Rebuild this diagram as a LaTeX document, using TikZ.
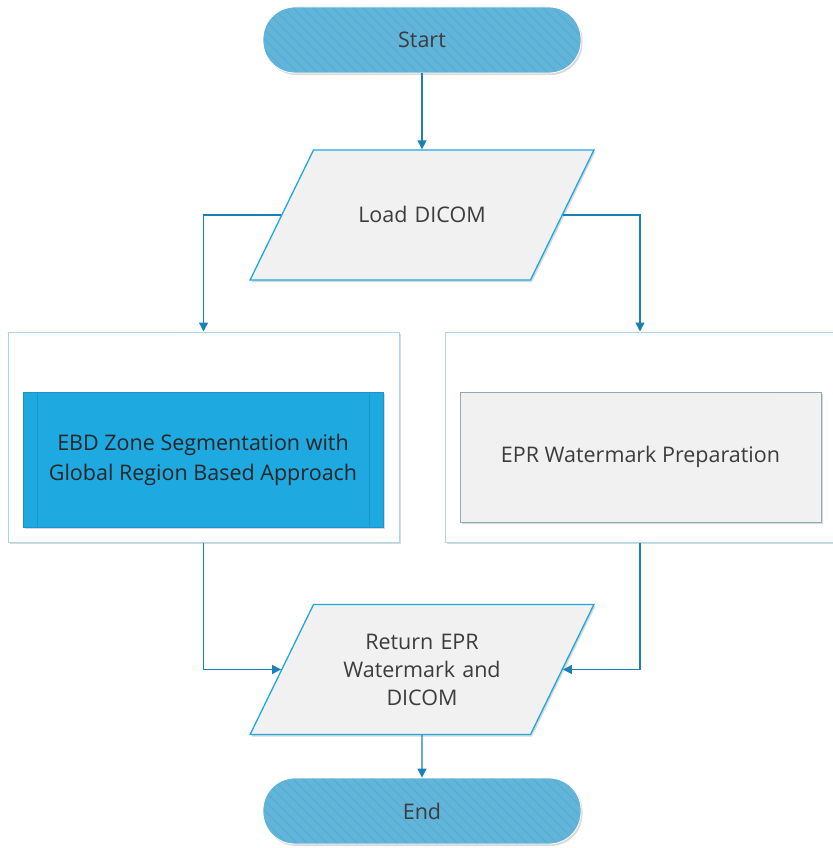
\documentclass[tikz,border=0pt]{standalone}
\usepackage{fontspec}
\setmainfont{Open Sans}
\usetikzlibrary{shapes.geometric,shadows,arrows.meta}

\definecolor{termblue}{HTML}{62B4D9}
\definecolor{termhatch}{HTML}{55ABD5}
\definecolor{edgeblue}{HTML}{1EA8E0}
\definecolor{flowblue}{HTML}{1A80B6}
\definecolor{lanegray}{HTML}{A9D6E5}
\definecolor{segblue}{HTML}{1EA9E1}
\definecolor{segline}{HTML}{1993C9}
\definecolor{prepedge}{HTML}{8FAAB5}
\definecolor{boxgray}{HTML}{F1F1F1}
\definecolor{textgray}{HTML}{3C3C3C}

\tikzset{
  softshadow/.style={drop shadow={shadow xshift=1.5pt, shadow yshift=-2pt, opacity=.25, fill=black!60}},
  terminal/.style={rectangle, rounded corners=32pt, fill=termblue, draw=white, line width=0.8pt,
    minimum width=318pt, minimum height=66pt, softshadow, text=textgray,
    font=\fontsize{21.5}{26}\selectfont,
    path picture={\foreach \k in {-26,...,18}{\draw[termhatch, line width=0.8pt]
      ([xshift=\k*10pt]path picture bounding box.north) -- ++(75,75);}}},
  inout/.style={trapezium, trapezium left angle=64, trapezium right angle=116,
    inner sep=0pt, text width=217pt, align=center,
    fill=boxgray, draw=edgeblue, line width=1.3pt,
    softshadow, text=textgray, font=\fontsize{21.5}{28}\selectfont},
  lane/.style={rectangle, fill=white, draw=lanegray, line width=1pt,
    minimum width=391pt, minimum height=210pt, softshadow},
  segbox/.style={rectangle, fill=segblue, draw=segline, line width=0.6pt,
    minimum width=360pt, minimum height=135pt, softshadow, text=black!85, align=center,
    font=\fontsize{21.5}{30}\selectfont,
    path picture={\draw[segline, line width=0.8pt]
      ([xshift=14pt]path picture bounding box.north west) -- ([xshift=14pt]path picture bounding box.south west)
      ([xshift=-14pt]path picture bounding box.north east) -- ([xshift=-14pt]path picture bounding box.south east);}},
  prepbox/.style={rectangle, fill=boxgray, draw=prepedge, line width=1pt,
    minimum width=361pt, minimum height=130pt, softshadow, text=textgray,
    font=\fontsize{21.5}{28}\selectfont,
    path picture={\foreach \k in {-20,...,40}{\draw[black!6, line width=0.6pt]
      ([xshift=\k*8pt]path picture bounding box.north west) -- ++(-140,140);}}},
  flow/.style={draw=flowblue, line width=1.2pt, -{Triangle[length=9pt,width=9pt]}}
}

\begin{document}
\begin{tikzpicture}[x=1pt,y=-1pt]
  \useasboundingbox (0,0) rectangle (832,848);

  % terminals and input/output
  \node[terminal](start) at (422,40){Start};
  \node[inout, text height=72.5pt, text depth=57.5pt](load) at (422,215){Load DICOM};

  % two lanes
  \node[lane](leftlane) at (203.5,437){};
  \node[lane, minimum width=390pt](rightlane) at (640,437){};
  \node[segbox](seg) at (203,459.5){EBD Zone Segmentation with\\Global Region Based Approach};
  \node[prepbox](prep) at (640.5,457){EPR Watermark Preparation};

  \node[inout, text height=44.5pt, text depth=85.5pt](ret) at (422,669.5){Return EPR\\Watermark and\\DICOM};
  \node[terminal](end) at (422,811){End};

  % connectors
  \draw[flow] (start) -- (load);
  \draw[flow] (load.left side) -| (leftlane.north);
  \draw[flow] (load.right side) -| (rightlane.north);
  \draw[flow] (leftlane.south) |- (ret.left side);
  \draw[flow] (rightlane.south) |- (ret.right side);
  \draw[flow] (ret) -- (end);
\end{tikzpicture}
\end{document}
